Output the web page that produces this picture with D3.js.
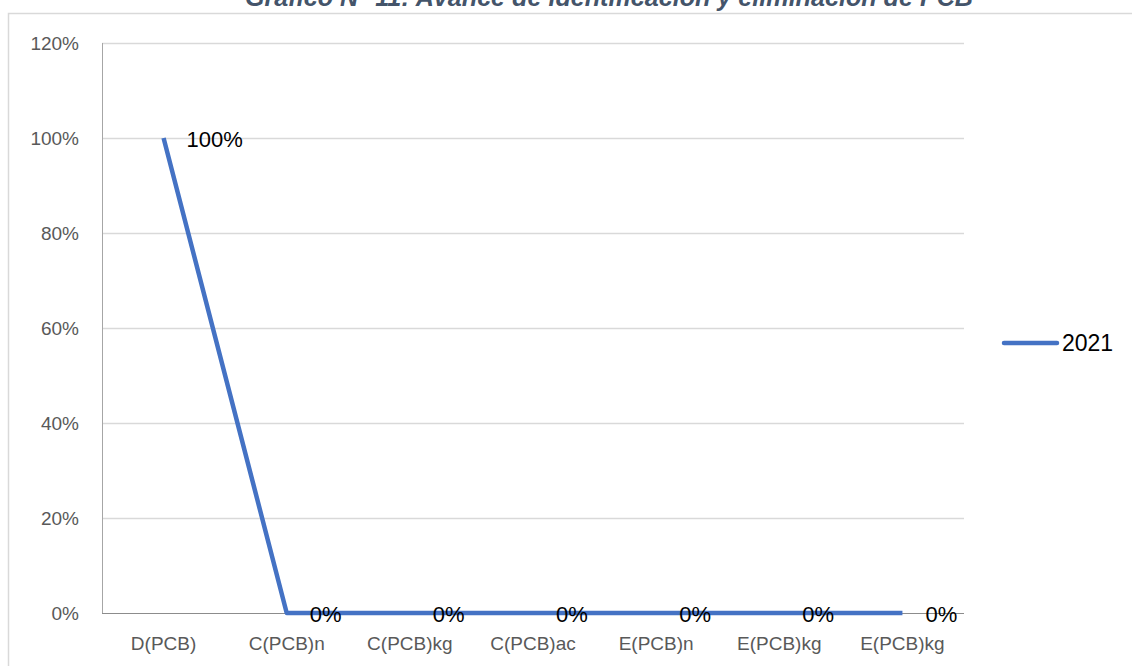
<!DOCTYPE html>
<html>
<head>
<meta charset="utf-8">
<script src="https://cdn.jsdelivr.net/npm/d3@7"></script>
<style>
    body { margin: 0; background: #fff; }
    svg { display: block; font-family: "Liberation Sans", Arial, sans-serif; }
</style>
</head>
<body>
<svg id="chart" width="1132" height="666"></svg>
<script>
var categories = ["D(PCB)", "C(PCB)n", "C(PCB)kg", "C(PCB)ac", "E(PCB)n", "E(PCB)kg", "E(PCB)kg "],
    values2021 = [1, 0, 0, 0, 0, 0, 0],
    yTicks = [0, 0.2, 0.4, 0.6, 0.8, 1.0, 1.2],
    seriesName = "2021",
    title = "Gráfico N° 11: Avance de identificación y eliminación de PCB";

(function () {
    "use strict";

    var svg = d3.select("#chart"),
        m = {left: 102, right: 964, top: 43, bottom: 613},
        pct = d3.format(".0%"),
        x, y, line, pts;

    //chart area frame, runs off the right and bottom of the picture
    svg.append("rect")
        .attr("x", 8.5).attr("y", 13.5)
        .attr("width", 1140).attr("height", 700)
        .attr("fill", "none")
        .attr("stroke", "#d9d9d9")
        .attr("stroke-width", 1.5);

    //title sits mostly above the top edge, as in the original
    svg.append("text")
        .attr("x", 609).attr("y", 6)
        .attr("text-anchor", "middle")
        .attr("font-size", 25)
        .attr("font-weight", "bold")
        .attr("font-style", "italic")
        .attr("fill", "#44546a")
        .attr("textLength", 728)
        .attr("lengthAdjust", "spacingAndGlyphs")
        .text(title);

    x = d3.scaleBand().domain(categories).range([m.left, m.right]);
    y = d3.scaleLinear().domain([0, 1.2]).range([m.bottom, m.top]);

    //gridlines
    svg.append("g").selectAll("line")
        .data(yTicks.filter(function (t) { return t > 0; }))
        .join("line")
        .attr("x1", m.left).attr("x2", m.right)
        .attr("y1", function (d) { return Math.round(y(d)) + 0.5; })
        .attr("y2", function (d) { return Math.round(y(d)) + 0.5; })
        .attr("stroke", "#d9d9d9")
        .attr("stroke-width", 1.5);

    //axes lines
    svg.append("line")
        .attr("x1", m.left + 0.5).attr("x2", m.left + 0.5)
        .attr("y1", m.top).attr("y2", m.bottom)
        .attr("stroke", "#a6a6a6");
    svg.append("line")
        .attr("x1", m.left).attr("x2", m.right)
        .attr("y1", m.bottom + 0.5).attr("y2", m.bottom + 0.5)
        .attr("stroke", "#8c8c8c");

    svg.append("g").selectAll("text")
        .data(yTicks)
        .join("text")
        .attr("x", 79)
        .attr("y", function (d) { return y(d); })
        .attr("dy", "0.35em")
        .attr("text-anchor", "end")
        .attr("font-size", 19)
        .attr("fill", "#595959")
        .text(pct);

    svg.append("g").selectAll("text")
        .data(categories)
        .join("text")
        .attr("x", function (d) { return x(d) + x.bandwidth() / 2; })
        .attr("y", 650)
        .attr("text-anchor", "middle")
        .attr("font-size", 19)
        .attr("fill", "#595959")
        .text(function (d) { return d.trim(); });

    pts = categories.map(function (c, i) {
        return {cat: c, v: values2021[i]}; });

    line = d3.line()
        .x(function (d) { return x(d.cat) + x.bandwidth() / 2; })
        .y(function (d) { return y(d.v); });

    svg.append("path")
        .datum(pts)
        .attr("d", line)
        .attr("fill", "none")
        .attr("stroke", "#4472c4")
        .attr("stroke-width", 4.5)
        .attr("stroke-linejoin", "round");

    svg.append("g").selectAll("text")
        .data(pts)
        .join("text")
        .attr("x", function (d) { return x(d.cat) + x.bandwidth() / 2 + 23; })
        .attr("y", function (d) { return y(d.v) + 1; })
        .attr("dy", "0.35em")
        .attr("font-size", 22)
        .attr("fill", "#000")
        .text(function (d) { return pct(d.v); });

    //legend
    svg.append("line")
        .attr("x1", 1004).attr("x2", 1057)
        .attr("y1", 343).attr("y2", 343)
        .attr("stroke", "#4472c4")
        .attr("stroke-width", 4.5)
        .attr("stroke-linecap", "round");
    svg.append("text")
        .attr("x", 1062).attr("y", 343)
        .attr("dy", "0.35em")
        .attr("font-size", 23)
        .attr("fill", "#000")
        .text(seriesName);
}());
</script>
</body>
</html>
